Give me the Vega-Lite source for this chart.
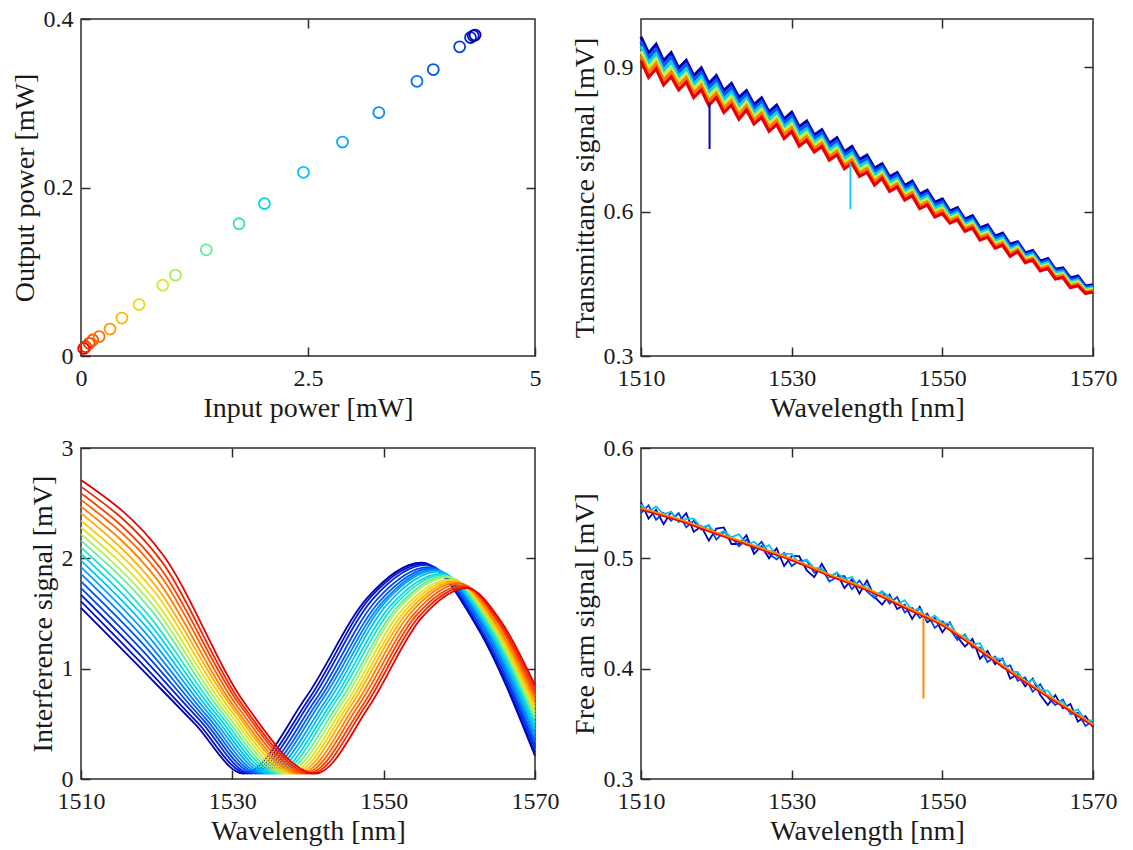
{
"$schema":"https://vega.github.io/schema/vega-lite/v6.json",
"background":"white",
"padding":{"left":10,"top":6,"right":5,"bottom":5},
"config":{
"font":"Liberation Serif",
"view":{"stroke":"#2b2b2b","strokeWidth":1.5},
"axis":{"domain":false,"grid":false,"tickSize":-9,"tickColor":"#2b2b2b","tickWidth":1.5,"labelFont":"Liberation Serif","labelFontSize":24,"labelColor":"#1a1a1a","labelFlush":false,"labelOverlap":false,"titleFont":"Liberation Serif","titleFontSize":28,"titleFontWeight":"normal","titleColor":"#1a1a1a","titlePadding":4},
"axisX":{"labelPadding":19},
"axisY":{"labelPadding":17}
},
"datasets":{
"p1":[{"k":0,"x":0.03,"y":0.009},{"k":1,"x":0.05,"y":0.011},{"k":2,"x":0.09,"y":0.015},{"k":3,"x":0.13,"y":0.019},{"k":4,"x":0.2,"y":0.023},{"k":5,"x":0.32,"y":0.032},{"k":6,"x":0.45,"y":0.045},{"k":7,"x":0.64,"y":0.061},{"k":8,"x":0.9,"y":0.084},{"k":9,"x":1.04,"y":0.096},{"k":10,"x":1.38,"y":0.126},{"k":11,"x":1.74,"y":0.157},{"k":12,"x":2.02,"y":0.181},{"k":13,"x":2.45,"y":0.218},{"k":14,"x":2.88,"y":0.254},{"k":15,"x":3.28,"y":0.289},{"k":16,"x":3.7,"y":0.326},{"k":17,"x":3.88,"y":0.34},{"k":18,"x":4.17,"y":0.367},{"k":19,"x":4.29,"y":0.378},{"k":20,"x":4.32,"y":0.38},{"k":21,"x":4.34,"y":0.381}],
"p2":[
{"c":0,"x":1510,"y":0.963},{"c":0,"x":1511,"y":0.929},{"c":0,"x":1512,"y":0.947},{"c":0,"x":1513,"y":0.913},{"c":0,"x":1514,"y":0.930},{"c":0,"x":1515,"y":0.898},{"c":0,"x":1516,"y":0.914},{"c":0,"x":1517,"y":0.882},{"c":0,"x":1518,"y":0.898},{"c":0,"x":1519,"y":0.866},{"c":0,"x":1520,"y":0.882},{"c":0,"x":1521,"y":0.851},{"c":0,"x":1522,"y":0.866},{"c":0,"x":1523,"y":0.837},{"c":0,"x":1524,"y":0.851},{"c":0,"x":1525,"y":0.822},{"c":0,"x":1526,"y":0.836},{"c":0,"x":1527,"y":0.807},{"c":0,"x":1528,"y":0.821},{"c":0,"x":1529,"y":0.792},{"c":0,"x":1530,"y":0.806},{"c":0,"x":1531,"y":0.776},{"c":0,"x":1532,"y":0.788},{"c":0,"x":1533,"y":0.759},{"c":0,"x":1534,"y":0.770},{"c":0,"x":1535,"y":0.742},{"c":0,"x":1536,"y":0.753},{"c":0,"x":1537,"y":0.724},{"c":0,"x":1538,"y":0.735},{"c":0,"x":1539,"y":0.708},{"c":0,"x":1540,"y":0.717},{"c":0,"x":1541,"y":0.690},{"c":0,"x":1542,"y":0.699},{"c":0,"x":1543,"y":0.672},{"c":0,"x":1544,"y":0.681},{"c":0,"x":1545,"y":0.654},{"c":0,"x":1546,"y":0.663},{"c":0,"x":1547,"y":0.636},{"c":0,"x":1548,"y":0.644},{"c":0,"x":1549,"y":0.619},{"c":0,"x":1550,"y":0.626},{"c":0,"x":1551,"y":0.601},{"c":0,"x":1552,"y":0.608},{"c":0,"x":1553,"y":0.584},{"c":0,"x":1554,"y":0.591},{"c":0,"x":1555,"y":0.566},{"c":0,"x":1556,"y":0.572},{"c":0,"x":1557,"y":0.549},{"c":0,"x":1558,"y":0.555},{"c":0,"x":1559,"y":0.532},{"c":0,"x":1560,"y":0.537},{"c":0,"x":1561,"y":0.514},{"c":0,"x":1562,"y":0.519},{"c":0,"x":1563,"y":0.497},{"c":0,"x":1564,"y":0.502},{"c":0,"x":1565,"y":0.480},{"c":0,"x":1566,"y":0.483},{"c":0,"x":1567,"y":0.462},{"c":0,"x":1568,"y":0.466},{"c":0,"x":1569,"y":0.445},{"c":0,"x":1570,"y":0.448},
{"c":1,"x":1510,"y":0.953},{"c":1,"x":1511,"y":0.919},{"c":1,"x":1512,"y":0.937},{"c":1,"x":1513,"y":0.903},{"c":1,"x":1514,"y":0.920},{"c":1,"x":1515,"y":0.889},{"c":1,"x":1516,"y":0.905},{"c":1,"x":1517,"y":0.873},{"c":1,"x":1518,"y":0.889},{"c":1,"x":1519,"y":0.857},{"c":1,"x":1520,"y":0.873},{"c":1,"x":1521,"y":0.842},{"c":1,"x":1522,"y":0.857},{"c":1,"x":1523,"y":0.828},{"c":1,"x":1524,"y":0.843},{"c":1,"x":1525,"y":0.814},{"c":1,"x":1526,"y":0.828},{"c":1,"x":1527,"y":0.799},{"c":1,"x":1528,"y":0.813},{"c":1,"x":1529,"y":0.784},{"c":1,"x":1530,"y":0.798},{"c":1,"x":1531,"y":0.768},{"c":1,"x":1532,"y":0.780},{"c":1,"x":1533,"y":0.752},{"c":1,"x":1534,"y":0.763},{"c":1,"x":1535,"y":0.735},{"c":1,"x":1536,"y":0.746},{"c":1,"x":1537,"y":0.717},{"c":1,"x":1538,"y":0.728},{"c":1,"x":1539,"y":0.701},{"c":1,"x":1540,"y":0.710},{"c":1,"x":1541,"y":0.683},{"c":1,"x":1542,"y":0.693},{"c":1,"x":1543,"y":0.666},{"c":1,"x":1544,"y":0.675},{"c":1,"x":1545,"y":0.648},{"c":1,"x":1546,"y":0.657},{"c":1,"x":1547,"y":0.630},{"c":1,"x":1548,"y":0.638},{"c":1,"x":1549,"y":0.613},{"c":1,"x":1550,"y":0.620},{"c":1,"x":1551,"y":0.596},{"c":1,"x":1552,"y":0.603},{"c":1,"x":1553,"y":0.579},{"c":1,"x":1554,"y":0.586},{"c":1,"x":1555,"y":0.561},{"c":1,"x":1556,"y":0.567},{"c":1,"x":1557,"y":0.544},{"c":1,"x":1558,"y":0.550},{"c":1,"x":1559,"y":0.527},{"c":1,"x":1560,"y":0.533},{"c":1,"x":1561,"y":0.510},{"c":1,"x":1562,"y":0.515},{"c":1,"x":1563,"y":0.493},{"c":1,"x":1564,"y":0.498},{"c":1,"x":1565,"y":0.476},{"c":1,"x":1566,"y":0.479},{"c":1,"x":1567,"y":0.458},{"c":1,"x":1568,"y":0.462},{"c":1,"x":1569,"y":0.442},{"c":1,"x":1570,"y":0.445},
{"c":2,"x":1510,"y":0.943},{"c":2,"x":1511,"y":0.909},{"c":2,"x":1512,"y":0.927},{"c":2,"x":1513,"y":0.893},{"c":2,"x":1514,"y":0.910},{"c":2,"x":1515,"y":0.880},{"c":2,"x":1516,"y":0.896},{"c":2,"x":1517,"y":0.864},{"c":2,"x":1518,"y":0.880},{"c":2,"x":1519,"y":0.848},{"c":2,"x":1520,"y":0.864},{"c":2,"x":1521,"y":0.833},{"c":2,"x":1522,"y":0.848},{"c":2,"x":1523,"y":0.819},{"c":2,"x":1524,"y":0.835},{"c":2,"x":1525,"y":0.806},{"c":2,"x":1526,"y":0.820},{"c":2,"x":1527,"y":0.791},{"c":2,"x":1528,"y":0.805},{"c":2,"x":1529,"y":0.776},{"c":2,"x":1530,"y":0.790},{"c":2,"x":1531,"y":0.760},{"c":2,"x":1532,"y":0.772},{"c":2,"x":1533,"y":0.745},{"c":2,"x":1534,"y":0.756},{"c":2,"x":1535,"y":0.728},{"c":2,"x":1536,"y":0.739},{"c":2,"x":1537,"y":0.710},{"c":2,"x":1538,"y":0.721},{"c":2,"x":1539,"y":0.694},{"c":2,"x":1540,"y":0.703},{"c":2,"x":1541,"y":0.676},{"c":2,"x":1542,"y":0.687},{"c":2,"x":1543,"y":0.660},{"c":2,"x":1544,"y":0.669},{"c":2,"x":1545,"y":0.642},{"c":2,"x":1546,"y":0.651},{"c":2,"x":1547,"y":0.624},{"c":2,"x":1548,"y":0.632},{"c":2,"x":1549,"y":0.607},{"c":2,"x":1550,"y":0.614},{"c":2,"x":1551,"y":0.591},{"c":2,"x":1552,"y":0.598},{"c":2,"x":1553,"y":0.574},{"c":2,"x":1554,"y":0.581},{"c":2,"x":1555,"y":0.556},{"c":2,"x":1556,"y":0.562},{"c":2,"x":1557,"y":0.539},{"c":2,"x":1558,"y":0.545},{"c":2,"x":1559,"y":0.522},{"c":2,"x":1560,"y":0.529},{"c":2,"x":1561,"y":0.506},{"c":2,"x":1562,"y":0.511},{"c":2,"x":1563,"y":0.489},{"c":2,"x":1564,"y":0.494},{"c":2,"x":1565,"y":0.472},{"c":2,"x":1566,"y":0.475},{"c":2,"x":1567,"y":0.454},{"c":2,"x":1568,"y":0.458},{"c":2,"x":1569,"y":0.439},{"c":2,"x":1570,"y":0.442},
{"c":3,"x":1510,"y":0.933},{"c":3,"x":1511,"y":0.899},{"c":3,"x":1512,"y":0.917},{"c":3,"x":1513,"y":0.883},{"c":3,"x":1514,"y":0.900},{"c":3,"x":1515,"y":0.871},{"c":3,"x":1516,"y":0.887},{"c":3,"x":1517,"y":0.855},{"c":3,"x":1518,"y":0.871},{"c":3,"x":1519,"y":0.839},{"c":3,"x":1520,"y":0.855},{"c":3,"x":1521,"y":0.824},{"c":3,"x":1522,"y":0.839},{"c":3,"x":1523,"y":0.810},{"c":3,"x":1524,"y":0.827},{"c":3,"x":1525,"y":0.798},{"c":3,"x":1526,"y":0.812},{"c":3,"x":1527,"y":0.783},{"c":3,"x":1528,"y":0.797},{"c":3,"x":1529,"y":0.768},{"c":3,"x":1530,"y":0.782},{"c":3,"x":1531,"y":0.752},{"c":3,"x":1532,"y":0.764},{"c":3,"x":1533,"y":0.738},{"c":3,"x":1534,"y":0.749},{"c":3,"x":1535,"y":0.721},{"c":3,"x":1536,"y":0.732},{"c":3,"x":1537,"y":0.703},{"c":3,"x":1538,"y":0.714},{"c":3,"x":1539,"y":0.687},{"c":3,"x":1540,"y":0.696},{"c":3,"x":1541,"y":0.669},{"c":3,"x":1542,"y":0.681},{"c":3,"x":1543,"y":0.654},{"c":3,"x":1544,"y":0.663},{"c":3,"x":1545,"y":0.636},{"c":3,"x":1546,"y":0.645},{"c":3,"x":1547,"y":0.618},{"c":3,"x":1548,"y":0.626},{"c":3,"x":1549,"y":0.601},{"c":3,"x":1550,"y":0.608},{"c":3,"x":1551,"y":0.586},{"c":3,"x":1552,"y":0.593},{"c":3,"x":1553,"y":0.569},{"c":3,"x":1554,"y":0.576},{"c":3,"x":1555,"y":0.551},{"c":3,"x":1556,"y":0.557},{"c":3,"x":1557,"y":0.534},{"c":3,"x":1558,"y":0.540},{"c":3,"x":1559,"y":0.517},{"c":3,"x":1560,"y":0.525},{"c":3,"x":1561,"y":0.502},{"c":3,"x":1562,"y":0.507},{"c":3,"x":1563,"y":0.485},{"c":3,"x":1564,"y":0.490},{"c":3,"x":1565,"y":0.468},{"c":3,"x":1566,"y":0.471},{"c":3,"x":1567,"y":0.450},{"c":3,"x":1568,"y":0.454},{"c":3,"x":1569,"y":0.436},{"c":3,"x":1570,"y":0.439},
{"c":4,"x":1510,"y":0.923},{"c":4,"x":1511,"y":0.889},{"c":4,"x":1512,"y":0.907},{"c":4,"x":1513,"y":0.873},{"c":4,"x":1514,"y":0.890},{"c":4,"x":1515,"y":0.862},{"c":4,"x":1516,"y":0.878},{"c":4,"x":1517,"y":0.846},{"c":4,"x":1518,"y":0.862},{"c":4,"x":1519,"y":0.830},{"c":4,"x":1520,"y":0.846},{"c":4,"x":1521,"y":0.815},{"c":4,"x":1522,"y":0.830},{"c":4,"x":1523,"y":0.801},{"c":4,"x":1524,"y":0.819},{"c":4,"x":1525,"y":0.790},{"c":4,"x":1526,"y":0.804},{"c":4,"x":1527,"y":0.775},{"c":4,"x":1528,"y":0.789},{"c":4,"x":1529,"y":0.760},{"c":4,"x":1530,"y":0.774},{"c":4,"x":1531,"y":0.744},{"c":4,"x":1532,"y":0.756},{"c":4,"x":1533,"y":0.731},{"c":4,"x":1534,"y":0.742},{"c":4,"x":1535,"y":0.714},{"c":4,"x":1536,"y":0.725},{"c":4,"x":1537,"y":0.696},{"c":4,"x":1538,"y":0.707},{"c":4,"x":1539,"y":0.680},{"c":4,"x":1540,"y":0.689},{"c":4,"x":1541,"y":0.662},{"c":4,"x":1542,"y":0.675},{"c":4,"x":1543,"y":0.648},{"c":4,"x":1544,"y":0.657},{"c":4,"x":1545,"y":0.630},{"c":4,"x":1546,"y":0.639},{"c":4,"x":1547,"y":0.612},{"c":4,"x":1548,"y":0.620},{"c":4,"x":1549,"y":0.595},{"c":4,"x":1550,"y":0.602},{"c":4,"x":1551,"y":0.581},{"c":4,"x":1552,"y":0.588},{"c":4,"x":1553,"y":0.564},{"c":4,"x":1554,"y":0.571},{"c":4,"x":1555,"y":0.546},{"c":4,"x":1556,"y":0.552},{"c":4,"x":1557,"y":0.529},{"c":4,"x":1558,"y":0.535},{"c":4,"x":1559,"y":0.512},{"c":4,"x":1560,"y":0.521},{"c":4,"x":1561,"y":0.498},{"c":4,"x":1562,"y":0.503},{"c":4,"x":1563,"y":0.481},{"c":4,"x":1564,"y":0.486},{"c":4,"x":1565,"y":0.464},{"c":4,"x":1566,"y":0.467},{"c":4,"x":1567,"y":0.446},{"c":4,"x":1568,"y":0.450},{"c":4,"x":1569,"y":0.433},{"c":4,"x":1570,"y":0.436},
{"c":5,"x":1510,"y":0.913},{"c":5,"x":1511,"y":0.879},{"c":5,"x":1512,"y":0.897},{"c":5,"x":1513,"y":0.863},{"c":5,"x":1514,"y":0.880},{"c":5,"x":1515,"y":0.853},{"c":5,"x":1516,"y":0.869},{"c":5,"x":1517,"y":0.837},{"c":5,"x":1518,"y":0.853},{"c":5,"x":1519,"y":0.821},{"c":5,"x":1520,"y":0.837},{"c":5,"x":1521,"y":0.806},{"c":5,"x":1522,"y":0.821},{"c":5,"x":1523,"y":0.792},{"c":5,"x":1524,"y":0.811},{"c":5,"x":1525,"y":0.782},{"c":5,"x":1526,"y":0.796},{"c":5,"x":1527,"y":0.767},{"c":5,"x":1528,"y":0.781},{"c":5,"x":1529,"y":0.752},{"c":5,"x":1530,"y":0.766},{"c":5,"x":1531,"y":0.736},{"c":5,"x":1532,"y":0.748},{"c":5,"x":1533,"y":0.724},{"c":5,"x":1534,"y":0.735},{"c":5,"x":1535,"y":0.707},{"c":5,"x":1536,"y":0.718},{"c":5,"x":1537,"y":0.689},{"c":5,"x":1538,"y":0.700},{"c":5,"x":1539,"y":0.673},{"c":5,"x":1540,"y":0.682},{"c":5,"x":1541,"y":0.655},{"c":5,"x":1542,"y":0.669},{"c":5,"x":1543,"y":0.642},{"c":5,"x":1544,"y":0.651},{"c":5,"x":1545,"y":0.624},{"c":5,"x":1546,"y":0.633},{"c":5,"x":1547,"y":0.606},{"c":5,"x":1548,"y":0.614},{"c":5,"x":1549,"y":0.589},{"c":5,"x":1550,"y":0.596},{"c":5,"x":1551,"y":0.576},{"c":5,"x":1552,"y":0.583},{"c":5,"x":1553,"y":0.559},{"c":5,"x":1554,"y":0.566},{"c":5,"x":1555,"y":0.541},{"c":5,"x":1556,"y":0.547},{"c":5,"x":1557,"y":0.524},{"c":5,"x":1558,"y":0.530},{"c":5,"x":1559,"y":0.507},{"c":5,"x":1560,"y":0.517},{"c":5,"x":1561,"y":0.494},{"c":5,"x":1562,"y":0.499},{"c":5,"x":1563,"y":0.477},{"c":5,"x":1564,"y":0.482},{"c":5,"x":1565,"y":0.460},{"c":5,"x":1566,"y":0.463},{"c":5,"x":1567,"y":0.442},{"c":5,"x":1568,"y":0.446},{"c":5,"x":1569,"y":0.430},{"c":5,"x":1570,"y":0.433}
],
"p2s":[{"c":0,"x":1519.1,"y":0.826},{"c":0,"x":1519.1,"y":0.73},{"c":2,"x":1537.8,"y":0.70},{"c":2,"x":1537.8,"y":0.605}],
"p3":[
{"c":0,"x":1510,"y":1.55},{"c":0,"x":1517.53,"y":1.03},{"c":0,"x":1525.05,"y":0.50},{"c":0,"x":1531.5,"y":0.05},{"c":0,"x":1539.73,"y":0.74},{"c":0,"x":1547.95,"y":1.65},{"c":0,"x":1555.0,"y":1.96},{"c":0,"x":1562.5,"y":1.36},{"c":0,"x":1570,"y":0.21},
{"c":1,"x":1510,"y":1.61},{"c":1,"x":1517.7,"y":1.07},{"c":1,"x":1525.4,"y":0.51},{"c":1,"x":1532,"y":0.05},{"c":1,"x":1540.16,"y":0.73},{"c":1,"x":1548.31,"y":1.65},{"c":1,"x":1555.3,"y":1.95},{"c":1,"x":1562.65,"y":1.36},{"c":1,"x":1570,"y":0.24},
{"c":2,"x":1510,"y":1.67},{"c":2,"x":1517.88,"y":1.12},{"c":2,"x":1525.75,"y":0.53},{"c":2,"x":1532.5,"y":0.05},{"c":2,"x":1540.59,"y":0.73},{"c":2,"x":1548.67,"y":1.64},{"c":2,"x":1555.6,"y":1.94},{"c":2,"x":1562.8,"y":1.37},{"c":2,"x":1570,"y":0.28},
{"c":3,"x":1510,"y":1.73},{"c":3,"x":1518.05,"y":1.17},{"c":3,"x":1526.1,"y":0.54},{"c":3,"x":1533,"y":0.05},{"c":3,"x":1541.02,"y":0.72},{"c":3,"x":1549.03,"y":1.62},{"c":3,"x":1555.9,"y":1.92},{"c":3,"x":1562.95,"y":1.36},{"c":3,"x":1570,"y":0.31},
{"c":4,"x":1510,"y":1.79},{"c":4,"x":1518.23,"y":1.22},{"c":4,"x":1526.45,"y":0.55},{"c":4,"x":1533.5,"y":0.05},{"c":4,"x":1541.48,"y":0.72},{"c":4,"x":1549.46,"y":1.61},{"c":4,"x":1556.3,"y":1.91},{"c":4,"x":1563.15,"y":1.37},{"c":4,"x":1570,"y":0.34},
{"c":5,"x":1510,"y":1.86},{"c":5,"x":1518.4,"y":1.27},{"c":5,"x":1526.8,"y":0.56},{"c":5,"x":1534,"y":0.05},{"c":5,"x":1541.91,"y":0.72},{"c":5,"x":1549.82,"y":1.60},{"c":5,"x":1556.6,"y":1.90},{"c":5,"x":1563.3,"y":1.38},{"c":5,"x":1570,"y":0.38},
{"c":6,"x":1510,"y":1.92},{"c":6,"x":1518.58,"y":1.32},{"c":6,"x":1527.15,"y":0.57},{"c":6,"x":1534.5,"y":0.05},{"c":6,"x":1542.34,"y":0.71},{"c":6,"x":1550.18,"y":1.60},{"c":6,"x":1556.9,"y":1.89},{"c":6,"x":1563.45,"y":1.38},{"c":6,"x":1570,"y":0.41},
{"c":7,"x":1510,"y":1.98},{"c":7,"x":1518.75,"y":1.37},{"c":7,"x":1527.5,"y":0.58},{"c":7,"x":1535,"y":0.05},{"c":7,"x":1542.77,"y":0.71},{"c":7,"x":1550.54,"y":1.59},{"c":7,"x":1557.2,"y":1.88},{"c":7,"x":1563.6,"y":1.39},{"c":7,"x":1570,"y":0.45},
{"c":8,"x":1510,"y":2.04},{"c":8,"x":1518.93,"y":1.42},{"c":8,"x":1527.85,"y":0.59},{"c":8,"x":1535.5,"y":0.05},{"c":8,"x":1543.2,"y":0.70},{"c":8,"x":1550.9,"y":1.57},{"c":8,"x":1557.5,"y":1.86},{"c":8,"x":1563.75,"y":1.38},{"c":8,"x":1570,"y":0.48},
{"c":9,"x":1510,"y":2.10},{"c":9,"x":1519.1,"y":1.47},{"c":9,"x":1528.2,"y":0.60},{"c":9,"x":1536,"y":0.05},{"c":9,"x":1543.63,"y":0.70},{"c":9,"x":1551.26,"y":1.56},{"c":9,"x":1557.8,"y":1.85},{"c":9,"x":1563.9,"y":1.39},{"c":9,"x":1570,"y":0.51},
{"c":10,"x":1510,"y":2.16},{"c":10,"x":1519.28,"y":1.53},{"c":10,"x":1528.55,"y":0.61},{"c":10,"x":1536.5,"y":0.05},{"c":10,"x":1544.1,"y":0.69},{"c":10,"x":1551.69,"y":1.55},{"c":10,"x":1558.2,"y":1.84},{"c":10,"x":1564.1,"y":1.39},{"c":10,"x":1570,"y":0.55},
{"c":11,"x":1510,"y":2.22},{"c":11,"x":1519.45,"y":1.58},{"c":11,"x":1528.9,"y":0.62},{"c":11,"x":1537,"y":0.05},{"c":11,"x":1544.53,"y":0.69},{"c":11,"x":1552.05,"y":1.55},{"c":11,"x":1558.5,"y":1.83},{"c":11,"x":1564.25,"y":1.40},{"c":11,"x":1570,"y":0.58},
{"c":12,"x":1510,"y":2.28},{"c":12,"x":1519.63,"y":1.63},{"c":12,"x":1529.25,"y":0.63},{"c":12,"x":1537.5,"y":0.05},{"c":12,"x":1544.96,"y":0.68},{"c":12,"x":1552.41,"y":1.53},{"c":12,"x":1558.8,"y":1.81},{"c":12,"x":1564.4,"y":1.40},{"c":12,"x":1570,"y":0.61},
{"c":13,"x":1510,"y":2.34},{"c":13,"x":1519.8,"y":1.69},{"c":13,"x":1529.6,"y":0.64},{"c":13,"x":1538,"y":0.05},{"c":13,"x":1545.39,"y":0.68},{"c":13,"x":1552.77,"y":1.52},{"c":13,"x":1559.1,"y":1.80},{"c":13,"x":1564.55,"y":1.40},{"c":13,"x":1570,"y":0.65},
{"c":14,"x":1510,"y":2.41},{"c":14,"x":1519.98,"y":1.74},{"c":14,"x":1529.95,"y":0.65},{"c":14,"x":1538.5,"y":0.05},{"c":14,"x":1545.82,"y":0.68},{"c":14,"x":1553.13,"y":1.51},{"c":14,"x":1559.4,"y":1.79},{"c":14,"x":1564.7,"y":1.41},{"c":14,"x":1570,"y":0.68},
{"c":15,"x":1510,"y":2.47},{"c":15,"x":1520.15,"y":1.80},{"c":15,"x":1530.3,"y":0.65},{"c":15,"x":1539,"y":0.05},{"c":15,"x":1546.25,"y":0.67},{"c":15,"x":1553.49,"y":1.50},{"c":15,"x":1559.7,"y":1.78},{"c":15,"x":1564.85,"y":1.41},{"c":15,"x":1570,"y":0.72},
{"c":16,"x":1510,"y":2.53},{"c":16,"x":1520.33,"y":1.86},{"c":16,"x":1530.65,"y":0.66},{"c":16,"x":1539.5,"y":0.05},{"c":16,"x":1546.71,"y":0.67},{"c":16,"x":1553.92,"y":1.49},{"c":16,"x":1560.1,"y":1.77},{"c":16,"x":1565.05,"y":1.42},{"c":16,"x":1570,"y":0.75},
{"c":17,"x":1510,"y":2.59},{"c":17,"x":1520.5,"y":1.91},{"c":17,"x":1531,"y":0.67},{"c":17,"x":1540,"y":0.05},{"c":17,"x":1547.14,"y":0.66},{"c":17,"x":1554.28,"y":1.48},{"c":17,"x":1560.4,"y":1.75},{"c":17,"x":1565.2,"y":1.42},{"c":17,"x":1570,"y":0.78},
{"c":18,"x":1510,"y":2.65},{"c":18,"x":1520.68,"y":1.97},{"c":18,"x":1531.35,"y":0.67},{"c":18,"x":1540.5,"y":0.05},{"c":18,"x":1547.57,"y":0.66},{"c":18,"x":1554.64,"y":1.47},{"c":18,"x":1560.7,"y":1.74},{"c":18,"x":1565.35,"y":1.42},{"c":18,"x":1570,"y":0.82},
{"c":19,"x":1510,"y":2.71},{"c":19,"x":1520.85,"y":2.03},{"c":19,"x":1531.7,"y":0.68},{"c":19,"x":1541,"y":0.05},{"c":19,"x":1548,"y":0.65},{"c":19,"x":1555,"y":1.46},{"c":19,"x":1561,"y":1.73},{"c":19,"x":1565.5,"y":1.43},{"c":19,"x":1570,"y":0.85}
],
"p4n":[
{"c":0,"x":1510,"y":0.551},{"c":0,"x":1511,"y":0.536},{"c":0,"x":1512,"y":0.544},{"c":0,"x":1513,"y":0.531},{"c":0,"x":1514,"y":0.542},{"c":0,"x":1515,"y":0.533},{"c":0,"x":1516,"y":0.541},{"c":0,"x":1517,"y":0.524},{"c":0,"x":1518,"y":0.529},{"c":0,"x":1519,"y":0.516},{"c":0,"x":1520,"y":0.527},{"c":0,"x":1521,"y":0.528},{"c":0,"x":1522,"y":0.513},{"c":0,"x":1523,"y":0.513},{"c":0,"x":1524,"y":0.521},{"c":0,"x":1525,"y":0.504},{"c":0,"x":1526,"y":0.511},{"c":0,"x":1527,"y":0.500},{"c":0,"x":1528,"y":0.509},{"c":0,"x":1529,"y":0.493},{"c":0,"x":1530,"y":0.502},{"c":0,"x":1531,"y":0.502},{"c":0,"x":1532,"y":0.489},{"c":0,"x":1533,"y":0.483},{"c":0,"x":1534,"y":0.495},{"c":0,"x":1535,"y":0.483},{"c":0,"x":1536,"y":0.487},{"c":0,"x":1537,"y":0.473},{"c":0,"x":1538,"y":0.481},{"c":0,"x":1539,"y":0.468},{"c":0,"x":1540,"y":0.480},{"c":0,"x":1541,"y":0.465},{"c":0,"x":1542,"y":0.458},{"c":0,"x":1543,"y":0.467},{"c":0,"x":1544,"y":0.454},{"c":0,"x":1545,"y":0.458},{"c":0,"x":1546,"y":0.445},{"c":0,"x":1547,"y":0.456},{"c":0,"x":1548,"y":0.442},{"c":0,"x":1549,"y":0.446},{"c":0,"x":1550,"y":0.433},{"c":0,"x":1551,"y":0.442},{"c":0,"x":1552,"y":0.429},{"c":0,"x":1553,"y":0.420},{"c":0,"x":1554,"y":0.427},{"c":0,"x":1555,"y":0.409},{"c":0,"x":1556,"y":0.416},{"c":0,"x":1557,"y":0.404},{"c":0,"x":1558,"y":0.409},{"c":0,"x":1559,"y":0.391},{"c":0,"x":1560,"y":0.395},{"c":0,"x":1561,"y":0.384},{"c":0,"x":1562,"y":0.391},{"c":0,"x":1563,"y":0.376},{"c":0,"x":1564,"y":0.367},{"c":0,"x":1565,"y":0.376},{"c":0,"x":1566,"y":0.364},{"c":0,"x":1567,"y":0.368},{"c":0,"x":1568,"y":0.352},{"c":0,"x":1569,"y":0.357},{"c":0,"x":1570,"y":0.347},
{"c":15,"x":1510,"y":0.541},{"c":15,"x":1511,"y":0.548},{"c":15,"x":1512,"y":0.535},{"c":15,"x":1513,"y":0.541},{"c":15,"x":1514,"y":0.534},{"c":15,"x":1515,"y":0.541},{"c":15,"x":1516,"y":0.528},{"c":15,"x":1517,"y":0.534},{"c":15,"x":1518,"y":0.526},{"c":15,"x":1519,"y":0.530},{"c":15,"x":1520,"y":0.517},{"c":15,"x":1521,"y":0.524},{"c":15,"x":1522,"y":0.519},{"c":15,"x":1523,"y":0.511},{"c":15,"x":1524,"y":0.517},{"c":15,"x":1525,"y":0.508},{"c":15,"x":1526,"y":0.515},{"c":15,"x":1527,"y":0.504},{"c":15,"x":1528,"y":0.499},{"c":15,"x":1529,"y":0.505},{"c":15,"x":1530,"y":0.493},{"c":15,"x":1531,"y":0.498},{"c":15,"x":1532,"y":0.498},{"c":15,"x":1533,"y":0.487},{"c":15,"x":1534,"y":0.491},{"c":15,"x":1535,"y":0.479},{"c":15,"x":1536,"y":0.483},{"c":15,"x":1537,"y":0.484},{"c":15,"x":1538,"y":0.472},{"c":15,"x":1539,"y":0.480},{"c":15,"x":1540,"y":0.470},{"c":15,"x":1541,"y":0.464},{"c":15,"x":1542,"y":0.470},{"c":15,"x":1543,"y":0.459},{"c":15,"x":1544,"y":0.465},{"c":15,"x":1545,"y":0.451},{"c":15,"x":1546,"y":0.455},{"c":15,"x":1547,"y":0.446},{"c":15,"x":1548,"y":0.450},{"c":15,"x":1549,"y":0.437},{"c":15,"x":1550,"y":0.443},{"c":15,"x":1551,"y":0.436},{"c":15,"x":1552,"y":0.426},{"c":15,"x":1553,"y":0.431},{"c":15,"x":1554,"y":0.419},{"c":15,"x":1555,"y":0.419},{"c":15,"x":1556,"y":0.406},{"c":15,"x":1557,"y":0.411},{"c":15,"x":1558,"y":0.401},{"c":15,"x":1559,"y":0.403},{"c":15,"x":1560,"y":0.389},{"c":15,"x":1561,"y":0.392},{"c":15,"x":1562,"y":0.379},{"c":15,"x":1563,"y":0.386},{"c":15,"x":1564,"y":0.374},{"c":15,"x":1565,"y":0.367},{"c":15,"x":1566,"y":0.372},{"c":15,"x":1567,"y":0.359},{"c":15,"x":1568,"y":0.360},{"c":15,"x":1569,"y":0.348},{"c":15,"x":1570,"y":0.353},
{"c":38,"x":1510,"y":0.549},{"c":38,"x":1511,"y":0.542},{"c":38,"x":1512,"y":0.547},{"c":38,"x":1513,"y":0.540},{"c":38,"x":1514,"y":0.542},{"c":38,"x":1515,"y":0.533},{"c":38,"x":1516,"y":0.536},{"c":38,"x":1517,"y":0.536},{"c":38,"x":1518,"y":0.528},{"c":38,"x":1519,"y":0.530},{"c":38,"x":1520,"y":0.521},{"c":38,"x":1521,"y":0.525},{"c":38,"x":1522,"y":0.519},{"c":38,"x":1523,"y":0.522},{"c":38,"x":1524,"y":0.512},{"c":38,"x":1525,"y":0.515},{"c":38,"x":1526,"y":0.509},{"c":38,"x":1527,"y":0.512},{"c":38,"x":1528,"y":0.502},{"c":38,"x":1529,"y":0.504},{"c":38,"x":1530,"y":0.504},{"c":38,"x":1531,"y":0.495},{"c":38,"x":1532,"y":0.499},{"c":38,"x":1533,"y":0.491},{"c":38,"x":1534,"y":0.491},{"c":38,"x":1535,"y":0.483},{"c":38,"x":1536,"y":0.487},{"c":38,"x":1537,"y":0.481},{"c":38,"x":1538,"y":0.483},{"c":38,"x":1539,"y":0.473},{"c":38,"x":1540,"y":0.476},{"c":38,"x":1541,"y":0.466},{"c":38,"x":1542,"y":0.470},{"c":38,"x":1543,"y":0.465},{"c":38,"x":1544,"y":0.458},{"c":38,"x":1545,"y":0.462},{"c":38,"x":1546,"y":0.453},{"c":38,"x":1547,"y":0.454},{"c":38,"x":1548,"y":0.444},{"c":38,"x":1549,"y":0.448},{"c":38,"x":1550,"y":0.441},{"c":38,"x":1551,"y":0.441},{"c":38,"x":1552,"y":0.430},{"c":38,"x":1553,"y":0.430},{"c":38,"x":1554,"y":0.422},{"c":38,"x":1555,"y":0.423},{"c":38,"x":1556,"y":0.410},{"c":38,"x":1557,"y":0.410},{"c":38,"x":1558,"y":0.408},{"c":38,"x":1559,"y":0.397},{"c":38,"x":1560,"y":0.397},{"c":38,"x":1561,"y":0.387},{"c":38,"x":1562,"y":0.390},{"c":38,"x":1563,"y":0.381},{"c":38,"x":1564,"y":0.380},{"c":38,"x":1565,"y":0.371},{"c":38,"x":1566,"y":0.370},{"c":38,"x":1567,"y":0.360},{"c":38,"x":1568,"y":0.363},{"c":38,"x":1569,"y":0.353},{"c":38,"x":1570,"y":0.353}
],
"p4o":[{"c":78,"x":1510,"y":0.545},{"c":78,"x":1515,"y":0.535},{"c":78,"x":1520,"y":0.523},{"c":78,"x":1525,"y":0.511},{"c":78,"x":1530,"y":0.499},{"c":78,"x":1535,"y":0.485},{"c":78,"x":1540,"y":0.472},{"c":78,"x":1545,"y":0.456},{"c":78,"x":1550,"y":0.440},{"c":78,"x":1555,"y":0.417},{"c":78,"x":1560,"y":0.393},{"c":78,"x":1565,"y":0.371},{"c":78,"x":1570,"y":0.349}],
"p4s":[{"c":78,"x":1547.5,"y":0.447},{"c":78,"x":1547.5,"y":0.373}],
"p4r":[{"c":100,"x":1510,"y":0.544},{"c":100,"x":1515,"y":0.534},{"c":100,"x":1520,"y":0.522},{"c":100,"x":1525,"y":0.510},{"c":100,"x":1530,"y":0.498},{"c":100,"x":1535,"y":0.484},{"c":100,"x":1540,"y":0.471},{"c":100,"x":1545,"y":0.455},{"c":100,"x":1550,"y":0.439},{"c":100,"x":1555,"y":0.416},{"c":100,"x":1560,"y":0.392},{"c":100,"x":1565,"y":0.370},{"c":100,"x":1570,"y":0.348}]
},
"columns":2,
"spacing":{"row":92,"column":106},
"bounds":"flush",
"resolve":{"scale":{"color":"independent"},"legend":{"color":"independent"}},
"concat":[
{"width":454,"height":337,
"layer":[
{"data":{"name":"p1"},"mark":{"type":"point","filled":false,"size":120,"strokeWidth":1.8,"opacity":1},
"encoding":{
"x":{"field":"x","type":"quantitative","scale":{"domain":[0,5],"nice":false,"zero":false},"axis":{"values":[0,2.5,5],"format":".1~f","title":"Input power [mW]"}},
"y":{"field":"y","type":"quantitative","scale":{"domain":[0,0.4],"nice":false},"axis":{"values":[0,0.2,0.4],"format":".1~f","title":"Output power [mW]"}},
"color":{"field":"k","type":"quantitative","scale":{"domain":[21,0],"range":["#0000b4","#0020e0","#0058ff","#0098ff","#10d0f0","#50e8b0","#c8f040","#ffc800","#ff7800","#ff3800","#e80000"]},"legend":null}}},
{"data":{"values":[{}]},"mark":{"type":"point","opacity":0},
"encoding":{"x":{"datum":2.5,"type":"quantitative","axis":{"orient":"top","values":[2.5],"labels":false,"title":null}},"y":{"datum":0.2,"type":"quantitative","axis":{"orient":"right","values":[0.2],"labels":false,"title":null}}}}
],
"resolve":{"axis":{"x":"independent","y":"independent"}}},
{"width":452,"height":337,
"layer":[
{"data":{"name":"p2"},"mark":{"type":"line","strokeWidth":3.2,"interpolate":"linear"},
"encoding":{
"x":{"field":"x","type":"quantitative","scale":{"domain":[1510,1570],"nice":false,"zero":false},"axis":{"values":[1510,1530,1550,1570],"format":"d","title":"Wavelength [nm]"}},
"y":{"field":"y","type":"quantitative","scale":{"domain":[0.3,1.0],"nice":false,"zero":false},"axis":{"values":[0.3,0.6,0.9],"format":".1~f","title":"Transmittance signal [mV]"}},
"color":{"field":"c","type":"quantitative","scale":{"domain":[0,5],"range":["#0000b4","#0020e0","#0058ff","#0098ff","#10d0f0","#50e8b0","#c8f040","#ffc800","#ff7800","#ff3800","#e80000"]},"legend":null},
"detail":{"field":"c"}}},
{"data":{"name":"p2s"},"mark":{"type":"line","strokeWidth":2},
"encoding":{"x":{"field":"x","type":"quantitative","axis":null},"y":{"field":"y","type":"quantitative","axis":null},"color":{"field":"c","type":"quantitative","legend":null},"detail":{"field":"c"}}},
{"data":{"values":[{}]},"mark":{"type":"point","opacity":0},
"encoding":{"x":{"datum":1540,"type":"quantitative","axis":{"orient":"top","values":[1530,1550],"labels":false,"title":null}},"y":{"datum":0.6,"type":"quantitative","axis":{"orient":"right","values":[0.6,0.9],"labels":false,"title":null}}}}
],
"resolve":{"axis":{"x":"independent","y":"independent"}}},
{"width":454,"height":331,
"layer":[
{"data":{"name":"p3"},"mark":{"type":"line","strokeWidth":1.8,"interpolate":"monotone"},
"encoding":{
"x":{"field":"x","type":"quantitative","scale":{"domain":[1510,1570],"nice":false,"zero":false},"axis":{"values":[1510,1530,1550,1570],"format":"d","title":"Wavelength [nm]"}},
"y":{"field":"y","type":"quantitative","scale":{"domain":[0,3],"nice":false},"axis":{"values":[0,1,2,3],"format":"d","title":"Interference signal [mV]"}},
"color":{"field":"c","type":"quantitative","scale":{"domain":[0,19],"range":["#0000b4","#0020e0","#0058ff","#0098ff","#10d0f0","#50e8b0","#c8f040","#ffc800","#ff7800","#ff3800","#e80000"]},"legend":null},
"detail":{"field":"c"}}},
{"data":{"values":[{}]},"mark":{"type":"point","opacity":0},
"encoding":{"x":{"datum":1540,"type":"quantitative","axis":{"orient":"top","values":[1530,1550],"labels":false,"title":null}},"y":{"datum":1,"type":"quantitative","axis":{"orient":"right","values":[1,2],"labels":false,"title":null}}}}
],
"resolve":{"axis":{"x":"independent","y":"independent"}}},
{"width":452,"height":331,
"layer":[
{"data":{"name":"p4n"},"mark":{"type":"line","strokeWidth":1.8,"interpolate":"linear"},
"encoding":{
"x":{"field":"x","type":"quantitative","scale":{"domain":[1510,1570],"nice":false,"zero":false},"axis":{"values":[1510,1530,1550,1570],"format":"d","title":"Wavelength [nm]"}},
"y":{"field":"y","type":"quantitative","scale":{"domain":[0.3,0.6],"nice":false,"zero":false},"axis":{"values":[0.3,0.4,0.5,0.6],"format":".1~f","title":"Free arm signal [mV]"}},
"color":{"field":"c","type":"quantitative","scale":{"domain":[0,100],"range":["#0000b4","#0020e0","#0058ff","#0098ff","#10d0f0","#50e8b0","#c8f040","#ffc800","#ff7800","#ff3800","#e80000"]},"legend":null},
"detail":{"field":"c"}}},
{"data":{"name":"p4o"},"mark":{"type":"line","strokeWidth":3,"interpolate":"monotone"},
"encoding":{"x":{"field":"x","type":"quantitative","axis":null},"y":{"field":"y","type":"quantitative","axis":null},"color":{"field":"c","type":"quantitative","legend":null}}},
{"data":{"name":"p4s"},"mark":{"type":"line","strokeWidth":2},
"encoding":{"x":{"field":"x","type":"quantitative","axis":null},"y":{"field":"y","type":"quantitative","axis":null},"color":{"field":"c","type":"quantitative","legend":null}}},
{"data":{"name":"p4r"},"mark":{"type":"line","strokeWidth":1.5,"interpolate":"monotone"},
"encoding":{"x":{"field":"x","type":"quantitative","axis":null},"y":{"field":"y","type":"quantitative","axis":null},"color":{"field":"c","type":"quantitative","legend":null}}},
{"data":{"values":[{}]},"mark":{"type":"point","opacity":0},
"encoding":{"x":{"datum":1540,"type":"quantitative","axis":{"orient":"top","values":[1530,1550],"labels":false,"title":null}},"y":{"datum":0.45,"type":"quantitative","axis":{"orient":"right","values":[0.4,0.5],"labels":false,"title":null}}}}
],
"resolve":{"axis":{"x":"independent","y":"independent"}}}
]
}
